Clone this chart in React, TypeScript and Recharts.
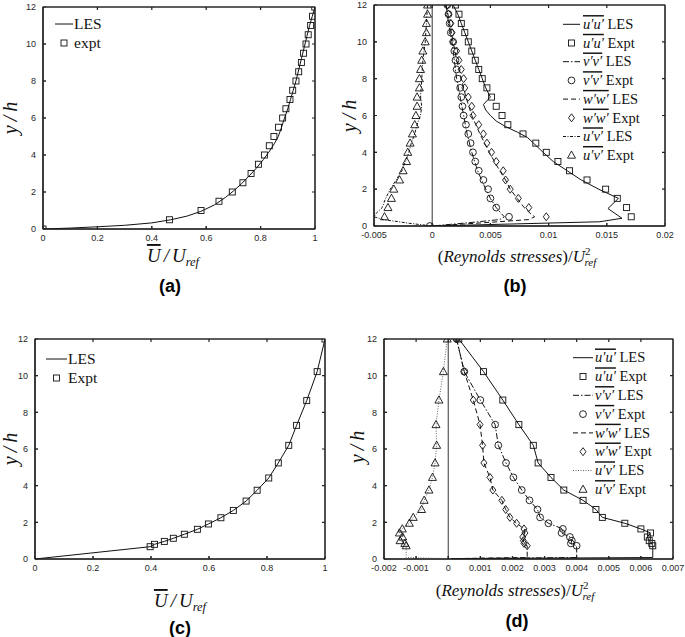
import React from "react"
import { ScatterChart, Scatter, XAxis, YAxis, ReferenceLine, CartesianGrid } from "recharts"

// ---------- data ----------
const Y_TICKS = [0, 2, 4, 6, 8, 10, 12]
const U_TICKS = [0, 0.2, 0.4, 0.6, 0.8, 1]
const B_X_TICKS = [-0.005, 0, 0.005, 0.01, 0.015, 0.02]
const D_X_TICKS = [-0.002, -0.001, 0, 0.001, 0.002, 0.003, 0.004, 0.005, 0.006, 0.007]

// (a) mean velocity, case 1
const A_EXPT_Y = [0, 0.5, 1, 1.5, 2, 2.5, 3, 3.5, 4, 4.5, 5, 5.5, 6, 6.5, 7, 7.5, 8, 8.5, 9, 9.5, 10, 10.5, 11, 11.5, 12]
const A_EXPT_U = [0, 0.465, 0.581, 0.647, 0.696, 0.735, 0.765, 0.792, 0.814, 0.832, 0.849, 0.866, 0.881, 0.893, 0.908, 0.918, 0.93, 0.94, 0.95, 0.958, 0.967, 0.975, 0.984, 0.991, 0.999]
const A_LES_Y = [0, 0.05, 0.12, 0.2, 0.33, 0.5, 0.7, 0.95, 1.3, 1.7, 2.05, 2.45, 2.9, 3.3, 3.75, 4.15, 4.6, 5.0, 5.5, 6.0, 6.5, 7.0, 7.5, 8.0, 8.6, 9.2, 9.8, 10.4, 11.0, 11.5, 12]
const A_LES_U = [0, 0.1, 0.2, 0.3, 0.4, 0.47, 0.53, 0.58, 0.63, 0.67, 0.7, 0.73, 0.76, 0.785, 0.81, 0.83, 0.85, 0.865, 0.877, 0.888, 0.9, 0.91, 0.92, 0.93, 0.94, 0.95, 0.96, 0.97, 0.98, 0.99, 1.0]

// (b) Reynolds stresses, case 1
const B_EXPT_Y = [12, 11.5, 11, 10.5, 10, 9.5, 9, 8.5, 8, 7.5, 7, 6.5, 6, 5.5, 5, 4.5, 4, 3.5, 3, 2.5, 2, 1.5, 1, 0.5]
const B_UU_EXPT = [0.002, 0.0023, 0.0025, 0.0028, 0.0031, 0.0034, 0.0037, 0.004, 0.0043, 0.0047, 0.0051, 0.0055, 0.006, 0.0065, 0.0078, 0.0089, 0.0098, 0.0108, 0.0118, 0.0133, 0.0149, 0.0159, 0.0167, 0.0171]
const B_VV_EXPT = [0.0013, 0.0014, 0.0015, 0.0016, 0.0018, 0.0019, 0.002, 0.0021, 0.0022, 0.0024, 0.0025, 0.0026, 0.0027, 0.0029, 0.0031, 0.0033, 0.0035, 0.0037, 0.004, 0.0044, 0.0048, 0.005, 0.0055, 0.0066]
const B_WW_EXPT = [0.0013, 0.0014, 0.0016, 0.0017, 0.0018, 0.0021, 0.0023, 0.0025, 0.0027, 0.0028, 0.0031, 0.0034, 0.0035, 0.004, 0.0044, 0.0047, 0.0051, 0.0055, 0.0061, 0.0063, 0.0067, 0.0074, 0.0083, 0.0098]
const B_UV_EXPT = [-0.0004, -0.0004, -0.0005, -0.0005, -0.0006, -0.0008, -0.0009, -0.001, -0.0011, -0.0011, -0.0013, -0.0013, -0.0014, -0.0015, -0.0017, -0.0019, -0.0021, -0.0022, -0.0025, -0.0028, -0.0033, -0.0035, -0.0038, -0.0041]
const B_ORIGIN_X = [-0.0002]
const B_ORIGIN_Y = [0]

const B_UU_LES_Y = [12, 11.5, 11, 10.5, 10, 9.5, 9, 8.5, 8, 7.5, 7.0, 6.6, 6.3, 6.0, 5.7, 5.4, 5.1, 4.8, 4.5, 4.2, 3.9, 3.5, 3.0, 2.5, 2.0, 1.5, 0.95, 0.42, 0.23, 0]
const B_UU_LES_X = [0.0018, 0.0022, 0.0025, 0.0028, 0.0031, 0.0034, 0.0037, 0.004, 0.0043, 0.0046, 0.005, 0.0044, 0.0046, 0.005, 0.0055, 0.0063, 0.0073, 0.0082, 0.0087, 0.0092, 0.0097, 0.0104, 0.0116, 0.0128, 0.0143, 0.016, 0.0151, 0.0163, 0.0144, 0]
const B_VV_LES_Y = [12, 11, 10, 9, 8, 7, 6, 5, 4, 3, 2, 1.5, 1.0, 0.7, 0.5, 0.35, 0.2, 0]
const B_VV_LES_X = [0.0012, 0.0014, 0.0017, 0.0019, 0.0021, 0.0024, 0.0027, 0.003, 0.0034, 0.0039, 0.0046, 0.005, 0.0055, 0.0059, 0.0062, 0.0058, 0.0035, 0]
const B_WW_LES_Y = [12, 11, 10, 9, 8, 7, 6, 5, 4, 3, 2.5, 2, 1.5, 1, 0.7, 0.5, 0.35, 0.2, 0]
const B_WW_LES_X = [0.0012, 0.0015, 0.0018, 0.0021, 0.0025, 0.0029, 0.0034, 0.0041, 0.0049, 0.0058, 0.0063, 0.0067, 0.0073, 0.0079, 0.0084, 0.0088, 0.0083, 0.005, 0]
const B_UV_LES_Y = [12, 11, 10, 9, 8, 7, 6.5, 6, 5.5, 5, 4.5, 4, 3.5, 3, 2.5, 2, 1.5, 1, 0.7, 0.5, 0.35, 0.15, 0]
const B_UV_LES_X = [-0.0004, -0.0005, -0.0006, -0.0008, -0.0009, -0.001, -0.0009, -0.001, -0.0013, -0.0015, -0.0018, -0.002, -0.0023, -0.0026, -0.0031, -0.0036, -0.004, -0.0043, -0.0048, -0.005, -0.0042, -0.002, 0]

// (c) mean velocity, case 2
const C_EXPT_Y = [0.67, 0.8, 0.96, 1.13, 1.35, 1.62, 1.91, 2.25, 2.65, 3.16, 3.75, 4.42, 5.24, 6.2, 7.29, 8.64, 10.22, 12]
const C_EXPT_U = [0.397, 0.412, 0.446, 0.477, 0.515, 0.56, 0.598, 0.641, 0.684, 0.728, 0.766, 0.806, 0.839, 0.875, 0.902, 0.937, 0.973, 1.0]
const C_LES_Y = [0, 0.67, 0.8, 0.96, 1.13, 1.35, 1.62, 1.91, 2.25, 2.65, 3.16, 3.75, 4.42, 5.24, 6.2, 7.29, 8.64, 10.22, 12]
const C_LES_U = [0, 0.397, 0.412, 0.446, 0.477, 0.515, 0.56, 0.598, 0.641, 0.684, 0.728, 0.766, 0.806, 0.839, 0.875, 0.902, 0.937, 0.973, 1.0]

// (d) Reynolds stresses, case 2
const D_EXPT_Y = [12, 10.22, 8.67, 7.33, 6.2, 5.24, 4.45, 3.76, 3.2, 2.7, 2.27, 1.95, 1.64, 1.42, 1.2, 1.0, 0.85, 0.72]
const D_UU_EXPT = [0.00033, 0.0011, 0.0017, 0.0022, 0.00265, 0.0028, 0.0032, 0.0036, 0.0042, 0.0046, 0.0048, 0.0055, 0.006, 0.0063, 0.0062, 0.00626, 0.00634, 0.00637]
const D_VV_EXPT = [0.00026, 0.0005, 0.001, 0.00146, 0.00156, 0.0018, 0.00203, 0.00229, 0.00253, 0.00278, 0.00286, 0.00312, 0.00357, 0.00353, 0.00379, 0.00385, 0.00382, 0.004]
const D_WW_EXPT = [0.00026, 0.0005, 0.00078, 0.00099, 0.00107, 0.00111, 0.0013, 0.00139, 0.00167, 0.00179, 0.00192, 0.00213, 0.00236, 0.00239, 0.00232, 0.00234, 0.00236, 0.00246]
const D_UV_EXPT = [-0.00003, -0.00015, -0.00029, -0.00038, -0.00036, -0.00041, -0.00049, -0.0006, -0.00075, -0.00083, -0.00109, -0.00121, -0.00143, -0.00152, -0.00142, -0.0015, -0.00135, -0.00131]
// LES curves run through the measured heights, then drop to the wall
const D_LES_Y = [...D_EXPT_Y, 0.08, 0.02]
const D_UU_LES = [...D_UU_EXPT, 0.00637, 0.0001]
const D_VV_LES = [...D_VV_EXPT, 0.004, 0.0001]
const D_WW_LES = [...D_WW_EXPT, 0.00246, 0.0001]
const D_UV_LES = [...D_UV_EXPT, -0.00131, -0.00002]

// ---------- styling ----------
const SERIF = "'Liberation Serif', 'Times New Roman', serif"
const SANS = "'Liberation Sans', Arial, sans-serif"
const INK = "#111"
const AXIS = "#333"
const DASH_DOT = "6 2 1.5 2"
const DASHED = "5 3"
const DENSE = "3 1.5 1 1.5"
const DOTTED = "1 1.5"
const TICK_PX = 3
const Y_AXIS_W = 30
const X_AXIS_H = 20

type Pt = { x: number; y: number }
const zip = (xs: number[], ys: number[]): Pt[] => xs.map((x, i) => ({ x, y: ys[i] }))

type ShapeFn = (p: any) => React.ReactElement
const mk = { fill: "none", stroke: INK, strokeWidth: 0.9 }
const Square: ShapeFn = (p) => <rect x={p.cx - 3} y={p.cy - 3} width={6} height={6} {...mk} />
const Circle: ShapeFn = (p) => <circle cx={p.cx} cy={p.cy} r={3.4} {...mk} />
const Diamond: ShapeFn = (p) => (
    <path d={`M${p.cx},${p.cy - 4}L${p.cx + 3},${p.cy}L${p.cx},${p.cy + 4}L${p.cx - 3},${p.cy}Z`} {...mk} />
)
const Triangle: ShapeFn = (p) => (
    <path d={`M${p.cx},${p.cy - 4.2}L${p.cx + 4},${p.cy + 3}L${p.cx - 4},${p.cy + 3}Z`} {...mk} />
)
const NoDot: ShapeFn = () => <g />

type LineSeries = { data: Pt[]; dash?: string; color?: string }
type MarkSeries = { data: Pt[]; shape: ShapeFn }
type Margin = { top: number; right: number; bottom: number; left: number }
type Frame = { left: number; top: number; width: number; height: number; margin: Margin; xDomain: [number, number]; xTicks: number[] }

const FRAME_A: Frame = { left: 0, top: 0, width: 340, height: 300, margin: { top: 7, right: 25, bottom: 51, left: 13 }, xDomain: [0, 1], xTicks: U_TICKS }
const FRAME_B: Frame = { left: 340, top: 0, width: 345, height: 300, margin: { top: 5, right: 20, bottom: 54, left: 4 }, xDomain: [-0.005, 0.02], xTicks: B_X_TICKS }
const FRAME_C: Frame = { left: 0, top: 320, width: 340, height: 317, margin: { top: 19, right: 15, bottom: 58, left: 5 }, xDomain: [0, 1], xTicks: U_TICKS }
const FRAME_D: Frame = { left: 340, top: 320, width: 345, height: 317, margin: { top: 19, right: 12, bottom: 58, left: 14 }, xDomain: [-0.002, 0.007], xTicks: D_X_TICKS }

function Panel(props: { frame: Frame; lines: LineSeries[]; markers: MarkSeries[]; zero?: number }) {
    const { frame, lines, markers, zero } = props
    const { left, top, width, height, margin, xDomain, xTicks } = frame
    const tick = { fontSize: 9, fill: "#262626", fontFamily: SANS }
    return (
        <div style={{ position: "absolute", left, top, width, height }}>
            <ScatterChart width={width} height={height} margin={margin}>
                {/* grid lines only at the domain edges: closes the box on top and right */}
                <CartesianGrid
                    horizontalValues={[0, 12]}
                    verticalValues={[xDomain[0], xDomain[1]]}
                    stroke={AXIS}
                    strokeWidth={1}
                    strokeDasharray="0"
                    fill="none"
                />
                <XAxis
                    type="number"
                    dataKey="x"
                    domain={xDomain}
                    ticks={xTicks}
                    interval={0}
                    allowDataOverflow
                    height={X_AXIS_H}
                    tickSize={-TICK_PX}
                    tickMargin={9}
                    stroke={AXIS}
                    tick={tick}
                    tickFormatter={(v) => String(v)}
                />
                <YAxis
                    type="number"
                    dataKey="y"
                    domain={[0, 12]}
                    ticks={Y_TICKS}
                    interval={0}
                    allowDataOverflow
                    width={Y_AXIS_W}
                    tickSize={-TICK_PX}
                    tickMargin={10}
                    stroke={AXIS}
                    tick={tick}
                />
                {zero !== undefined && <ReferenceLine x={zero} stroke={AXIS} strokeWidth={1} />}
                {lines.map((l, i) => (
                    <Scatter
                        key={"l" + i}
                        data={l.data}
                        shape={NoDot}
                        line={{ stroke: l.color ?? INK, strokeWidth: 1, strokeDasharray: l.dash }}
                        legendType="none"
                        isAnimationActive={false}
                    />
                ))}
                {markers.map((m, i) => (
                    <Scatter key={"m" + i} data={m.data} shape={m.shape} legendType="none" isAnimationActive={false} />
                ))}
            </ScatterChart>
        </div>
    )
}

// MATLAB-style closed box with inward ticks on all four sides, drawn in page coordinates
function BoxFrame({ frame }: { frame: Frame }) {
    const { left, top, width, height, margin, xDomain, xTicks } = frame
    const x0 = left + margin.left + Y_AXIS_W
    const y0 = top + margin.top
    const pw = width - margin.left - margin.right - Y_AXIS_W
    const ph = height - margin.top - margin.bottom - X_AXIS_H
    const x1 = x0 + pw
    const y1 = y0 + ph
    const fx = (v: number) => x0 + ((v - xDomain[0]) / (xDomain[1] - xDomain[0])) * pw
    const fy = (v: number) => y1 - (v / 12) * ph
    let d = `M${x0},${y0}H${x1}V${y1}H${x0}Z`
    xTicks.forEach((t) => {
        d += `M${fx(t)},${y0}v${TICK_PX}M${fx(t)},${y1}v${-TICK_PX}`
    })
    Y_TICKS.forEach((t) => {
        d += `M${x0},${fy(t)}h${TICK_PX}M${x1},${fy(t)}h${-TICK_PX}`
    })
    return <path d={d} fill="none" stroke="#222" strokeWidth={1.2} />
}

// ---------- legends / titles ----------
type LegendItem = { name?: string; label: string; dash?: string; color?: string; shape?: ShapeFn }

function LegendBlock(props: { items: LegendItem[]; x0: number; x1: number; tx: number; y0: number; dy: number; size: number }) {
    const { items, x0, x1, tx, y0, dy, size } = props
    return (
        <g>
            {items.map((it, i) => {
                const cy = y0 + dy * i
                return (
                    <g key={i}>
                        {it.shape ? (
                            it.shape({ cx: (x0 + x1) / 2, cy })
                        ) : (
                            <line x1={x0} x2={x1} y1={cy} y2={cy} stroke={it.color ?? INK} strokeWidth={1} strokeDasharray={it.dash} />
                        )}
                        <text x={tx} y={cy + size * 0.33} fontFamily={SERIF} fontSize={size} fill={INK}>
                            {it.name && (
                                <tspan fontStyle="italic" style={{ textDecoration: "overline" }}>
                                    {it.name}
                                </tspan>
                            )}
                            {it.name ? " " + it.label : it.label}
                        </text>
                    </g>
                )
            })}
        </g>
    )
}

const stressLegend = (uvDash: string, uvColor: string): LegendItem[] => [
    { name: "u′u′", label: "LES" },
    { name: "u′u′", label: "Expt", shape: Square },
    { name: "v′v′", label: "LES", dash: DASH_DOT },
    { name: "v′v′", label: "Expt", shape: Circle },
    { name: "w′w′", label: "LES", dash: DASHED },
    { name: "w′w′", label: "Expt", shape: Diamond },
    { name: "u′v′", label: "LES", dash: uvDash, color: uvColor },
    { name: "u′v′", label: "Expt", shape: Triangle },
]

function UTitle({ x, y }: { x: number; y: number }) {
    return (
        <text x={x} y={y} textAnchor="middle" fontFamily={SERIF} fontStyle="italic" fontSize={19} fill={INK}>
            <tspan style={{ textDecoration: "overline" }}>U</tspan>
            <tspan dx={3}>/</tspan>
            <tspan dx={3}>U</tspan>
            <tspan fontSize={12.5} dy={4}>ref</tspan>
        </text>
    )
}

function StressTitle({ x, y }: { x: number; y: number }) {
    return (
        <text x={x} y={y} textAnchor="middle" fontFamily={SERIF} fontSize={17} fill={INK}>
            (<tspan fontStyle="italic">Reynolds stresses</tspan>)/<tspan fontStyle="italic">U</tspan>
            <tspan fontSize={11} dy={-7}>2</tspan>
            <tspan fontSize={11} fontStyle="italic" dx={-6} dy={11}>ref</tspan>
        </text>
    )
}

function YTitle({ x, y }: { x: number; y: number }) {
    return (
        <text transform={`translate(${x},${y}) rotate(-90)`} textAnchor="middle" fontFamily={SERIF} fontStyle="italic" fontSize={20} fill={INK}>
            y<tspan dx={4}>/</tspan>
            <tspan dx={4}>h</tspan>
        </text>
    )
}

function Tag({ x, y, t }: { x: number; y: number; t: string }) {
    return (
        <text x={x} y={y} textAnchor="middle" fontFamily={SANS} fontWeight="bold" fontSize={18} fill="#000">
            {t}
        </text>
    )
}

export default function App() {
    return (
        <div style={{ position: "absolute", left: 0, top: 0, width: 685, height: 637, background: "#fff" }}>
            <Panel
                frame={FRAME_A}
                lines={[{ data: zip(A_LES_U, A_LES_Y) }]}
                markers={[{ data: zip(A_EXPT_U, A_EXPT_Y), shape: Square }]}
            />
            <Panel
                frame={FRAME_B}
                zero={0}
                lines={[
                    { data: zip(B_UU_LES_X, B_UU_LES_Y) },
                    { data: zip(B_VV_LES_X, B_VV_LES_Y), dash: DASH_DOT },
                    { data: zip(B_WW_LES_X, B_WW_LES_Y), dash: DASHED },
                    { data: zip(B_UV_LES_X, B_UV_LES_Y), dash: DENSE },
                ]}
                markers={[
                    { data: zip(B_UU_EXPT, B_EXPT_Y), shape: Square },
                    { data: zip(B_VV_EXPT, B_EXPT_Y), shape: Circle },
                    { data: zip(B_WW_EXPT, B_EXPT_Y), shape: Diamond },
                    { data: zip(B_UV_EXPT, B_EXPT_Y), shape: Triangle },
                    { data: zip(B_ORIGIN_X, B_ORIGIN_Y), shape: Circle },
                ]}
            />
            <Panel
                frame={FRAME_C}
                lines={[{ data: zip(C_LES_U, C_LES_Y) }]}
                markers={[{ data: zip(C_EXPT_U, C_EXPT_Y), shape: Square }]}
            />
            <Panel
                frame={FRAME_D}
                zero={0}
                lines={[
                    { data: zip(D_UU_LES, D_LES_Y) },
                    { data: zip(D_VV_LES, D_LES_Y), dash: DASH_DOT },
                    { data: zip(D_WW_LES, D_LES_Y), dash: DASHED },
                    { data: zip(D_UV_LES, D_LES_Y), dash: DOTTED, color: "#666" },
                ]}
                markers={[
                    { data: zip(D_UU_EXPT, D_EXPT_Y), shape: Square },
                    { data: zip(D_VV_EXPT, D_EXPT_Y), shape: Circle },
                    { data: zip(D_WW_EXPT, D_EXPT_Y), shape: Diamond },
                    { data: zip(D_UV_EXPT, D_EXPT_Y), shape: Triangle },
                ]}
            />
            <svg width={685} height={637} style={{ position: "absolute", left: 0, top: 0, pointerEvents: "none" }}>
                <BoxFrame frame={FRAME_A} />
                <BoxFrame frame={FRAME_B} />
                <BoxFrame frame={FRAME_C} />
                <BoxFrame frame={FRAME_D} />

                <YTitle x={17} y={118} />
                <UTitle x={173} y={262} />
                <Tag x={170} y={292} t="(a)" />
                <LegendBlock
                    items={[{ label: "LES" }, { label: "expt", shape: Square }]}
                    x0={55} x1={73} tx={74} y0={24} dy={19} size={15.5}
                />

                <YTitle x={356} y={116} />
                <StressTitle x={517} y={262} />
                <Tag x={515} y={292} t="(b)" />
                <LegendBlock items={stressLegend(DENSE, INK)} x0={563} x1={580} tx={583} y0={24.3} dy={18.7} size={14.5} />

                <YTitle x={17} y={449} />
                <UTitle x={180} y={607} />
                <Tag x={180} y={634} t="(c)" />
                <LegendBlock
                    items={[{ label: "LES" }, { label: "Expt", shape: Square }]}
                    x0={46} x1={67} tx={68} y0={359} dy={19} size={15.5}
                />

                <YTitle x={364} y={447} />
                <StressTitle x={515} y={596} />
                <Tag x={517} y={627} t="(d)" />
                <LegendBlock items={stressLegend(DOTTED, "#666")} x0={573} x1={593} tx={595} y0={357.7} dy={18.8} size={14.5} />
            </svg>
        </div>
    )
}
